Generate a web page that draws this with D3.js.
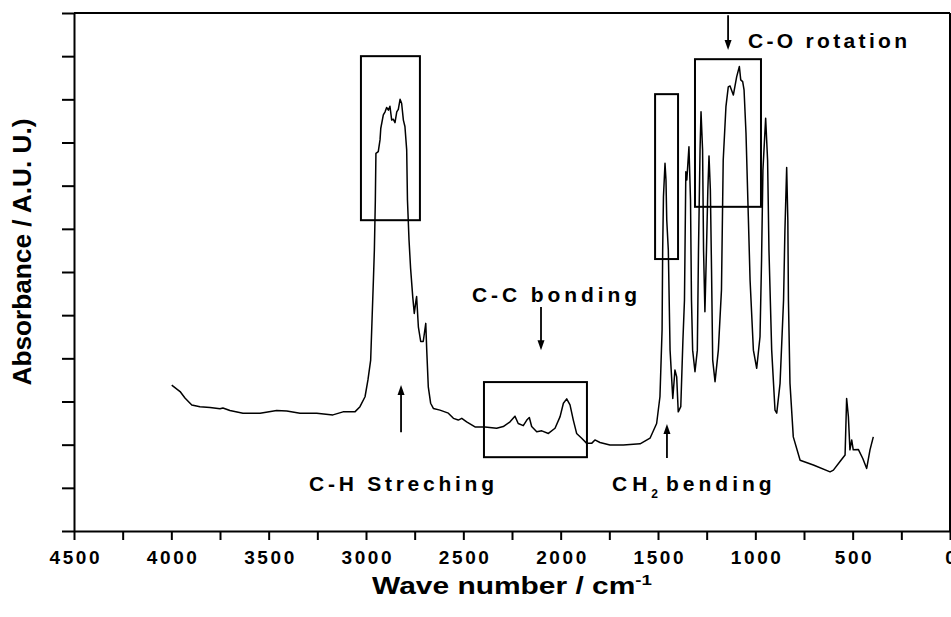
<!DOCTYPE html>
<html>
<head>
<meta charset="utf-8">
<script src="https://cdn.jsdelivr.net/npm/d3@7"></script>
<style>
  html, body { margin: 0; padding: 0; background: #fff; }
  svg { display: block; }
  text { font-family: "Liberation Sans", Arial, Helvetica, sans-serif; font-weight: bold; fill: #000; }
</style>
</head>
<body>
<svg id="chart" width="951" height="617"></svg>
<script>
// FTIR absorbance spectrum: wavenumber (cm-1) and absorbance (arbitrary units)
const wavenumber = [
  3998, 3955, 3930, 3895, 3853, 3801, 3750, 3735, 3699, 3632, 3544, 3459, 3407, 3339, 3253, 3170,
  3118, 3057, 3031, 3005, 2990, 2976, 2969, 2962, 2957, 2952, 2949, 2937, 2928, 2924, 2911, 2902,
  2894, 2885, 2877, 2868, 2860, 2851, 2842, 2834, 2825, 2817, 2808, 2800, 2791, 2787, 2779, 2771,
  2760, 2752, 2743, 2740, 2731, 2719, 2706, 2693, 2688, 2680, 2668, 2654, 2620, 2577, 2551, 2526,
  2508, 2483, 2440, 2389, 2329, 2295, 2260, 2235, 2218, 2192, 2174, 2161, 2149, 2123, 2097, 2063,
  2029, 2003, 1986, 1969, 1952, 1935, 1918, 1892, 1866, 1841, 1824, 1798, 1747, 1678, 1592, 1541,
  1507, 1490, 1479, 1476, 1472, 1464, 1459, 1455, 1447, 1438, 1424, 1413, 1404, 1396, 1383, 1372,
  1364, 1357, 1352, 1341, 1333, 1328, 1322, 1310, 1298, 1292, 1284, 1279, 1271, 1266, 1259, 1251,
  1244, 1238, 1231, 1225, 1219, 1207, 1190, 1174, 1165, 1151, 1139, 1130, 1113, 1096, 1082, 1075,
  1065, 1058, 1048, 1036, 1027, 1010, 993, 976, 968, 961, 947, 937, 930, 916, 899, 890,
  873, 855, 848, 839, 833, 830, 822, 805, 770, 702, 616, 599, 565, 539, 531, 522,
  514, 505, 497, 471, 448, 428, 411, 394
];
const absorbance = [
  3.38, 3.23, 3.08, 2.92, 2.88, 2.86, 2.83, 2.85, 2.79, 2.73, 2.73, 2.79, 2.78, 2.73, 2.73, 2.69,
  2.76, 2.76, 2.88, 3.11, 3.50, 3.96, 4.89, 5.81, 6.51, 7.67, 8.75, 8.79, 9.06, 9.33, 9.64, 9.71,
  9.81, 9.75, 9.84, 9.52, 9.54, 9.46, 9.71, 9.77, 10.00, 9.91, 9.52, 9.37, 8.83, 7.67, 6.74, 6.09,
  5.43, 5.04, 5.35, 5.43, 4.73, 4.39, 4.39, 4.81, 4.19, 3.34, 2.96, 2.84, 2.80, 2.73, 2.61, 2.57,
  2.61, 2.53, 2.41, 2.41, 2.38, 2.42, 2.53, 2.66, 2.49, 2.44, 2.57, 2.63, 2.42, 2.30, 2.32, 2.26,
  2.38, 2.65, 2.96, 3.06, 2.92, 2.57, 2.26, 2.15, 2.03, 2.03, 2.11, 2.05, 1.99, 1.99, 2.02, 2.15,
  2.49, 3.11, 4.66, 6.51, 7.74, 8.52, 8.13, 7.20, 6.51, 4.19, 3.07, 3.73, 3.57, 2.76, 2.88, 4.42,
  5.35, 8.32, 8.13, 8.90, 7.67, 5.35, 4.19, 3.69, 4.19, 6.51, 8.83, 9.71, 8.83, 6.51, 5.08, 6.51,
  7.90, 8.69, 7.90, 6.05, 3.96, 3.46, 4.19, 5.58, 8.59, 9.83, 10.29, 10.31, 10.10, 10.52, 10.76, 10.45,
  10.41, 10.22, 9.22, 7.28, 5.81, 4.19, 3.77, 4.50, 6.28, 8.36, 9.56, 8.59, 6.51, 4.19, 2.80, 2.73,
  3.42, 5.35, 6.97, 8.42, 7.20, 5.35, 3.42, 2.18, 1.64, 1.53, 1.37, 1.41, 1.61, 1.76, 3.07, 2.65,
  1.88, 2.11, 1.88, 1.89, 1.68, 1.45, 1.88, 2.18
];

// Axis ticks
const xMajorTicks = [4500, 4000, 3500, 3000, 2500, 2000, 1500, 1000, 500, 0];
const xMinorTicks = [4250, 3750, 3250, 2750, 2250, 1750, 1250, 750, 250];
const yTicks = [0, 1, 2, 3, 4, 5, 6, 7, 8, 9, 10, 11, 12];

// Highlight boxes around band groups: [wavenumber high, wavenumber low, absorbance top, absorbance bottom]
const boxCH = [3026, 2723, 11.00, 7.20];
const boxCC = [2394, 1865, 3.45, 1.71];
const boxCH2 = [1515, 1397, 10.12, 6.30];
const boxCO = [1310, 971, 10.93, 7.51];

// Band arrows: [wavenumber, absorbance at tail, absorbance at head]
const arrowCH = [2820, 2.29, 3.38];
const arrowCC = [2101, 5.19, 4.19];
const arrowCH2 = [1454, 1.69, 2.48];
const arrowCO = [1140, 11.95, 11.14];

const svg = d3.select("#chart");
const margin = { left: 74, top: 13, right: 1, bottom: 86 };
const W = 951, H = 617;
const iw = W - margin.left - margin.right;
const ih = H - margin.top - margin.bottom;

const x = d3.scaleLinear().domain([4500, 0]).range([margin.left, margin.left + iw]);
const y = d3.scaleLinear().domain([0, 12]).range([margin.top + ih, margin.top]);

// Minor x ticks
svg.append("g")
  .attr("transform", `translate(0,${margin.top + ih})`)
  .call(d3.axisBottom(x).tickValues(xMinorTicks).tickSize(9).tickFormat(""))
  .call(g => g.select(".domain").remove())
  .call(g => g.selectAll("line").attr("stroke", "#000").attr("stroke-width", 2));

// Major x ticks with labels
const xAxis = svg.append("g")
  .attr("transform", `translate(0,${margin.top + ih})`)
  .call(d3.axisBottom(x).tickValues(xMajorTicks).tickSize(9).tickSizeOuter(0).tickPadding(11).tickFormat(d3.format("d")));
xAxis.select(".domain").attr("stroke", "#000").attr("stroke-width", 2);
xAxis.selectAll("line").attr("stroke", "#000").attr("stroke-width", 2);
xAxis.selectAll("text")
  .attr("font-size", 19)
  .attr("font-family", "'Liberation Sans', Arial, sans-serif")
  .attr("font-weight", "bold")
  .style("letter-spacing", "2.6px")
  .attr("dx", "1.3px")
  .attr("fill", "#000");

// Left axis: ticks only
const yAxis = svg.append("g")
  .attr("transform", `translate(${margin.left},0)`)
  .call(d3.axisLeft(y).tickValues(yTicks).tickSize(12).tickSizeOuter(0).tickFormat(""));
yAxis.select(".domain").attr("stroke", "#000").attr("stroke-width", 2);
yAxis.selectAll("line").attr("stroke", "#000").attr("stroke-width", 2);

// Top and right frame lines
svg.append("line")
  .attr("x1", x(4500)).attr("x2", x(0)).attr("y1", y(12)).attr("y2", y(12))
  .attr("stroke", "#000").attr("stroke-width", 2);
svg.append("line")
  .attr("x1", x(0)).attr("x2", x(0)).attr("y1", y(12)).attr("y2", y(0))
  .attr("stroke", "#000").attr("stroke-width", 2);

// Spectrum
const pts = wavenumber.map((w, i) => [w, absorbance[i]]);
svg.append("path")
  .datum(pts)
  .attr("fill", "none")
  .attr("stroke", "#000")
  .attr("stroke-width", 1.5)
  .attr("stroke-linejoin", "round")
  .attr("d", d3.line().x(d => x(d[0])).y(d => y(d[1])));

// Highlight boxes
[boxCH, boxCC, boxCH2, boxCO].forEach(b => {
  svg.append("rect")
    .attr("x", x(b[0])).attr("y", y(b[2]))
    .attr("width", x(b[1]) - x(b[0])).attr("height", y(b[3]) - y(b[2]))
    .attr("fill", "none").attr("stroke", "#000").attr("stroke-width", 2);
});

// Arrows
function arrow(a) {
  const px = x(a[0]), y0 = y(a[1]), y1 = y(a[2]);
  const dir = y1 < y0 ? -1 : 1;
  const headLen = 10, headHalf = 3.5;
  svg.append("line")
    .attr("x1", px).attr("x2", px).attr("y1", y0).attr("y2", y1 - dir * headLen * 0.6)
    .attr("stroke", "#000").attr("stroke-width", 1.8);
  svg.append("path")
    .attr("d", `M${px},${y1} L${px - headHalf},${y1 - dir * headLen} L${px + headHalf},${y1 - dir * headLen} Z`)
    .attr("fill", "#000");
}
[arrowCH, arrowCC, arrowCH2, arrowCO].forEach(arrow);

// Band labels
function label(txt, xPix, yPix, width) {
  return svg.append("text")
    .attr("x", xPix).attr("y", yPix)
    .attr("font-size", 21)
    .attr("textLength", width)
    .attr("lengthAdjust", "spacing")
    .text(txt);
}
label("C-H Streching", 309, 491, 185);
label("C-C bonding", 472, 302, 165);
label("C-O rotation", 748, 48, 159);

// CH2 bending with subscript
const ch2 = svg.append("text").attr("x", 612).attr("y", 491).attr("font-size", 21);
ch2.append("tspan").text("CH").style("letter-spacing", "5px");
ch2.append("tspan").attr("font-size", 12).attr("dy", 7).attr("dx", -1).text("2");
ch2.append("tspan").attr("dy", -7).attr("dx", 8).text("bending").style("letter-spacing", "4px");

// Axis titles
const xt = svg.append("text")
  .attr("x", 512).attr("y", 594)
  .attr("text-anchor", "middle")
  .attr("font-size", 24)
  .attr("textLength", 280)
  .attr("lengthAdjust", "spacingAndGlyphs");
xt.append("tspan").text("Wave number / cm");
xt.append("tspan").attr("font-size", 15).attr("dy", -9).text("-1");

svg.append("text")
  .attr("transform", "translate(31,252) rotate(-90)")
  .attr("text-anchor", "middle")
  .attr("font-size", 25)
  .attr("textLength", 267)
  .attr("lengthAdjust", "spacingAndGlyphs")
  .text("Absorbance / A.U. U.)");
</script>
</body>
</html>
